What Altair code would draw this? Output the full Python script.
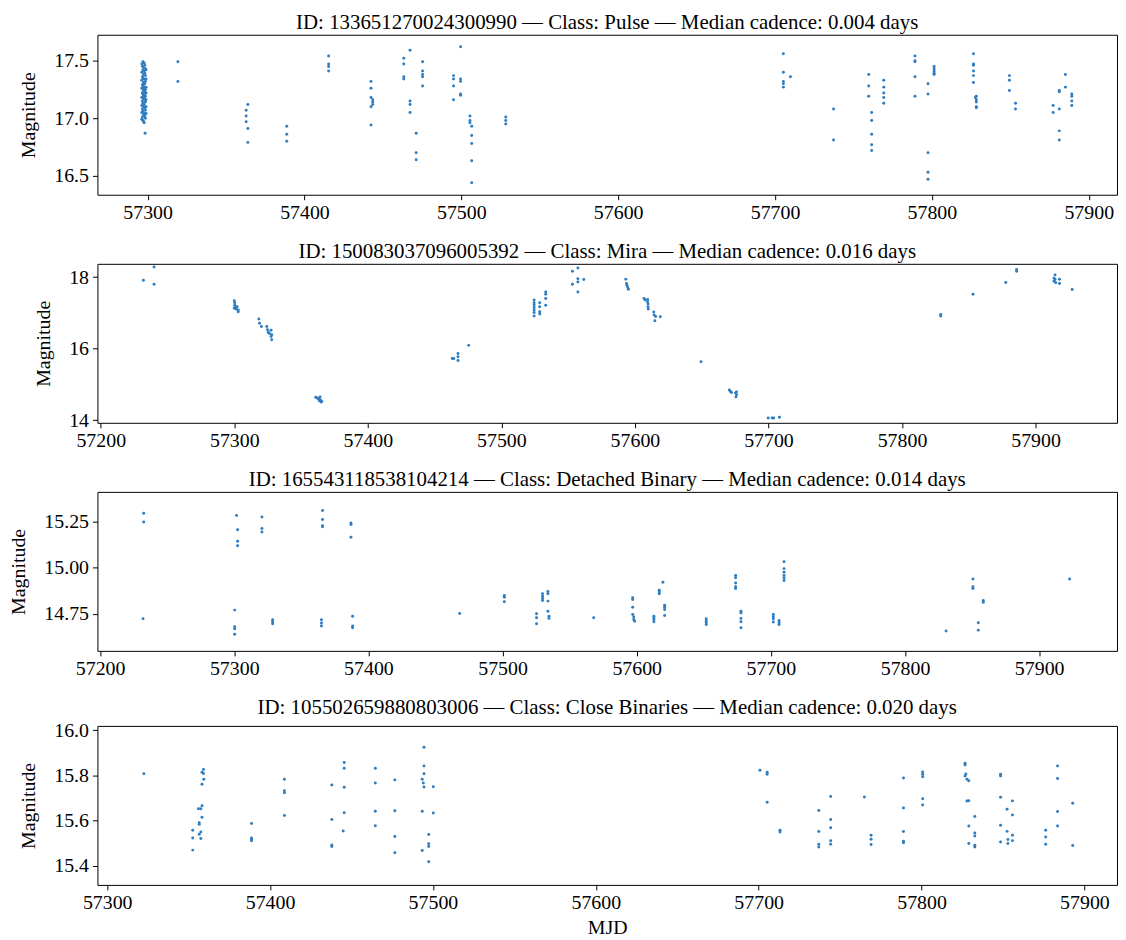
import altair as alt
import pandas as pd

FONT = "Liberation Serif"
COLOR = "#2e7dc0"

# ---------------- Panel 1: Pulse ----------------
p1_mjd = [
    # dense cluster near 57297
    57296.3, 57296.3, 57296.3, 57296.3, 57296.3, 57296.3, 57296.3, 57296.3,
    57296.7, 57296.7, 57296.7, 57296.7, 57296.7, 57296.7, 57296.7,
    57297.0, 57297.0, 57297.0, 57297.0, 57297.0, 57297.0, 57297.0, 57297.0,
    57297.4, 57297.4, 57297.4, 57297.4, 57297.4, 57297.4, 57297.4, 57297.4,
    57297.8, 57297.8, 57297.8, 57297.8, 57297.8, 57297.8, 57297.8, 57297.8,
    57298.2, 57298.2, 57298.2, 57298.2, 57298.2, 57298.2, 57298.2,
    57298.6, 57298.6, 57298.6, 57298.6, 57298.6, 57298.6, 57298.6, 57298.6,
    57299.0, 57299.0, 57299.0, 57299.0, 57299.0, 57299.0, 57299.0,
    57297.2, 57297.2, 57297.2, 57298.0, 57298.0, 57298.0, 57298.4,
    # rest of season 1
    57319.3, 57319.3,
    57363.9, 57362.8, 57362.8, 57362.8, 57363.9, 57363.9,
    57388.7, 57388.7, 57388.7,
    57415.4, 57415.4, 57415.4, 57415.4,
    57442.4, 57442.4, 57442.4, 57442.4, 57442.4, 57443.5, 57443.5, 57443.5,
    57463.3, 57463.3, 57463.3, 57463.3,
    57467.3, 57467.3, 57467.3, 57467.3,
    57471.2, 57471.2, 57471.2,
    57475.3, 57475.3, 57475.3, 57475.3, 57475.3,
    57495.0, 57495.0, 57495.0, 57495.0,
    57499.5, 57499.5, 57499.5, 57499.5, 57499.5,
    57505.5, 57505.5, 57505.5, 57506.6, 57506.6, 57506.6, 57506.6, 57506.6,
    57528.3, 57528.3, 57528.3,
    # season 2
    57705.3, 57705.3, 57705.3, 57705.3, 57705.3, 57709.8,
    57737.3, 57737.3,
    57759.7, 57759.7, 57759.7,
    57761.6, 57761.6, 57761.6, 57761.6, 57761.6,
    57769.3, 57769.3, 57769.3, 57769.3, 57769.3,
    57789.2, 57789.2, 57789.2, 57789.2, 57789.2,
    57797.5, 57797.5, 57797.5, 57797.5, 57797.5,
    57801.4, 57801.4, 57801.4, 57801.4, 57801.4,
    57826.5, 57826.5, 57826.5, 57826.5, 57826.5, 57826.5,
    57827.7, 57828.3, 57828.3, 57828.3, 57828.3, 57828.3,
    57849.4, 57849.4, 57849.4,
    57853.3, 57853.3,
    57877.3, 57877.3,
    57881.2, 57881.2, 57881.2, 57881.2, 57881.2,
    57885.1, 57885.1,
    57889.2, 57889.2, 57889.2, 57889.2,
]
p1_mag = [
    17.47, 17.40, 17.33, 17.26, 17.18, 17.11, 17.05, 16.99,
    17.45, 17.36, 17.29, 17.22, 17.15, 17.08, 17.01,
    17.49, 17.42, 17.35, 17.28, 17.21, 17.13, 17.06, 16.98,
    17.44, 17.38, 17.31, 17.24, 17.17, 17.10, 17.03, 16.97,
    17.48, 17.41, 17.34, 17.27, 17.20, 17.12, 17.04, 16.96,
    17.46, 17.39, 17.30, 17.23, 17.16, 17.09, 17.02,
    17.43, 17.37, 17.32, 17.25, 17.19, 17.14, 17.07, 17.00,
    17.42, 17.34, 17.27, 17.22, 17.16, 17.10, 17.04,
    17.29, 17.24, 17.19, 17.26, 17.21, 17.18, 16.87,
    17.49, 17.32,
    17.12, 17.07, 17.02, 16.97, 16.91, 16.79,
    16.93, 16.86, 16.80,
    17.54, 17.47, 17.45, 17.41,
    17.32, 17.26, 17.18, 17.10, 16.94, 17.16, 17.14, 17.12,
    17.52, 17.47, 17.36, 17.34,
    17.59, 17.15, 17.12, 17.05,
    16.87, 16.70, 16.64,
    17.49, 17.41, 17.38, 17.36, 17.28,
    17.37, 17.34, 17.28, 17.16,
    17.62, 17.34, 17.32, 17.21, 17.20,
    17.02, 16.98, 16.96, 16.93, 16.85, 16.78, 16.63, 16.44,
    17.01, 16.98, 16.95,
    17.56, 17.40, 17.32, 17.30, 17.27, 17.36,
    17.08, 16.81,
    17.38, 17.28, 17.19,
    17.05, 16.98, 16.86, 16.77, 16.72,
    17.33, 17.27, 17.22, 17.18, 17.13,
    17.54, 17.50, 17.49, 17.36, 17.19,
    17.30, 17.21, 16.70, 16.53, 16.47,
    17.45, 17.43, 17.41, 17.39, 17.38,
    17.56, 17.47, 17.46, 17.41, 17.37, 17.31,
    17.18, 17.19, 17.16, 17.14, 17.10, 17.09,
    17.37, 17.33, 17.24,
    17.13, 17.08,
    17.11, 17.05,
    17.24, 17.23, 17.08, 16.89, 16.81,
    17.38, 17.27,
    17.21, 17.19, 17.15, 17.11,
]

# ---------------- Panel 2: Mira ----------------
p2_mjd = [
    57231.9, 57239.9, 57239.9,
    57300.0, 57300.3, 57300.3, 57300.8, 57301.3, 57302.1, 57302.9, 57302.9, 57300.0,
    57318.4, 57318.9, 57320.3,
    57324.3, 57324.8, 57325.4, 57326.2, 57327.5, 57328.0, 57328.0, 57327.5,
    57361.0, 57362.1, 57362.9, 57363.4, 57364.2, 57364.2, 57364.7, 57365.5, 57365.0, 57363.7,
    57463.2, 57464.3,
    57467.5, 57467.5, 57467.5,
    57475.5,
    57524.5, 57524.5, 57524.5, 57524.5, 57524.5, 57524.5, 57524.5,
    57528.7, 57528.7, 57528.7, 57528.7,
    57533.2, 57533.2, 57533.2, 57533.2,
    57553.2, 57553.2, 57557.3, 57557.3, 57557.3, 57557.3, 57561.7,
    57593.2, 57593.7, 57594.0, 57594.6, 57595.1,
    57606.8, 57607.6, 57609.5, 57609.5, 57609.8, 57609.8, 57610.0,
    57614.1, 57614.4, 57615.5, 57614.9, 57619.0,
    57649.5,
    57670.7, 57671.5, 57672.3, 57675.3, 57676.1, 57675.6, 57676.1,
    57699.8, 57702.8, 57703.9, 57708.2,
    57829.0, 57829.0,
    57853.2,
    57877.7,
    57885.8, 57885.8,
    57914.6, 57913.8, 57914.6, 57913.8, 57915.1, 57917.9, 57917.9,
    57927.4,
]
p2_mag = [
    17.91, 18.28, 17.80,
    17.34, 17.28, 17.21, 17.15, 17.11, 17.17, 17.08, 17.03, 17.13,
    16.83, 16.71, 16.62,
    16.62, 16.53, 16.46, 16.42, 16.51, 16.39, 16.25, 16.34,
    14.64, 14.62, 14.60, 14.58, 14.65, 14.57, 14.55, 14.52, 14.51, 14.54,
    15.72, 15.72,
    15.86, 15.77, 15.67,
    16.09,
    17.36, 17.28, 17.22, 17.15, 17.08, 17.01, 16.91,
    17.28, 17.17, 17.03, 16.97,
    17.58, 17.52, 17.40, 17.21,
    18.16, 17.80, 18.25, 17.95, 17.86, 17.58, 17.93,
    17.94, 17.82, 17.77, 17.71, 17.66,
    17.40, 17.36, 17.37, 17.31, 17.25, 17.17, 17.11,
    17.02, 16.94, 16.90, 16.78, 16.89,
    15.63,
    14.84, 14.80, 14.77, 14.76, 14.71, 14.65, 14.79,
    14.06, 14.06, 14.06, 14.08,
    16.95, 16.91,
    17.52,
    17.85,
    18.21, 18.16,
    18.06, 17.97, 17.93, 17.88, 17.84, 17.94, 17.82,
    17.65,
]

# ---------------- Panel 3: Detached Binary ----------------
p3_mjd = [
    57232.5, 57232.5, 57232.0,
    57301.7, 57302.5, 57302.5, 57302.5,
    57300.3, 57300.3, 57300.3, 57300.3,
    57320.6, 57320.6, 57320.6,
    57328.6, 57328.6, 57328.6,
    57365.8, 57365.8, 57365.8, 57365.8,
    57365.0, 57365.0, 57365.0,
    57387.0, 57387.0, 57387.0,
    57388.2, 57388.2, 57388.2,
    57468.0,
    57501.3, 57501.3, 57501.3,
    57525.3, 57525.3, 57525.3,
    57529.8, 57529.8, 57529.8, 57529.8,
    57533.8, 57533.8, 57533.8, 57533.8, 57534.6, 57534.6,
    57567.9,
    57597.0, 57597.0, 57597.0, 57597.0, 57597.8, 57597.8, 57598.4,
    57612.8, 57612.8, 57612.8, 57612.8,
    57616.8, 57616.8, 57616.8,
    57619.5,
    57620.8, 57620.8, 57620.8, 57620.8,
    57651.8, 57651.8, 57651.8, 57651.8,
    57673.7, 57673.7, 57673.7, 57673.7, 57673.7,
    57677.7, 57677.7, 57677.7, 57677.7, 57677.7,
    57701.8, 57701.8, 57701.8, 57701.8,
    57706.1, 57706.1, 57706.1,
    57709.8, 57709.8, 57709.8, 57709.8, 57709.8, 57709.8,
    57830.6,
    57850.6, 57850.6, 57850.6,
    57854.6, 57854.6,
    57858.3, 57858.3,
    57922.7,
]
p3_mag = [
    15.297, 15.250, 14.723,
    15.286, 15.208, 15.145, 15.121,
    14.770, 14.679, 14.668, 14.638,
    15.277, 15.214, 15.196,
    14.718, 14.707, 14.696,
    15.313, 15.264, 15.230, 15.224,
    14.718, 14.700, 14.683,
    15.245, 15.236, 15.167,
    14.737, 14.683, 14.674,
    14.752,
    14.850, 14.840, 14.815,
    14.750, 14.728, 14.696,
    14.859, 14.846, 14.833, 14.822,
    14.871, 14.859, 14.819, 14.764, 14.737, 14.725,
    14.728,
    14.837, 14.828, 14.786, 14.746, 14.732, 14.719, 14.710,
    14.737, 14.728, 14.719, 14.707,
    14.878, 14.869, 14.859,
    14.922,
    14.797, 14.786, 14.773, 14.741,
    14.723, 14.712, 14.703, 14.692,
    14.958, 14.946, 14.918, 14.897, 14.888,
    14.764, 14.754, 14.725, 14.707, 14.674,
    14.746, 14.734, 14.723, 14.705,
    14.714, 14.703, 14.692,
    15.034, 14.996, 14.976, 14.958, 14.946, 14.931,
    14.656,
    14.940, 14.897, 14.888,
    14.701, 14.661,
    14.822, 14.813,
    14.940,
]

# ---------------- Panel 4: Close Binaries ----------------
p4_mjd = [
    57322.5,
    57352.5, 57352.5, 57352.5,
    57356.0, 57356.5, 57356.5, 57356.5, 57357.5, 57357.5, 57357.5, 57358.2, 57358.2, 57358.2, 57358.2, 57359.1, 57359.1, 57359.3,
    57388.6, 57388.6, 57388.6, 57388.6,
    57408.8, 57408.8, 57408.8, 57408.8,
    57437.9, 57437.9, 57437.9, 57437.9,
    57445.5, 57445.5, 57445.5, 57445.5, 57444.9,
    57464.6, 57464.6, 57464.6, 57464.6,
    57476.6, 57476.6, 57476.6, 57476.6,
    57494.5, 57494.5, 57494.5, 57493.4, 57494.1, 57494.5, 57493.4, 57493.4, 57497.4, 57497.4, 57497.4, 57497.4,
    57500.2, 57500.2,
    57700.8, 57705.2, 57705.2, 57705.2,
    57713.1, 57713.1,
    57736.9, 57736.9, 57736.9, 57736.9,
    57744.2, 57744.2, 57744.2, 57744.2, 57744.2,
    57764.9,
    57769.0, 57769.0, 57769.0,
    57788.9, 57788.9, 57788.9, 57788.9, 57788.9,
    57800.7, 57800.7, 57800.7, 57800.7, 57800.7,
    57826.7, 57826.7, 57826.7, 57827.2, 57827.9, 57829.0, 57827.9, 57829.0, 57829.0, 57829.0,
    57832.7, 57832.7, 57832.7, 57832.7, 57832.7,
    57848.5, 57848.5, 57848.5, 57848.5, 57848.5,
    57852.5, 57852.5, 57853.0, 57853.0, 57855.8, 57855.8, 57855.8, 57855.8,
    57876.2, 57876.2, 57876.2,
    57883.5, 57883.5, 57883.5, 57883.5,
    57892.8, 57892.8,
]
p4_mag = [
    15.807,
    15.557, 15.523, 15.469,
    15.652, 15.590, 15.583, 15.539, 15.520, 15.549, 15.652, 15.665, 15.615, 15.761, 15.814, 15.826, 15.808, 15.783,
    15.587, 15.523, 15.516, 15.510,
    15.783, 15.732, 15.723, 15.622,
    15.757, 15.605, 15.492, 15.485,
    15.857, 15.832, 15.747, 15.634, 15.554,
    15.832, 15.766, 15.641, 15.577,
    15.780, 15.643, 15.529, 15.457,
    15.924, 15.842, 15.807, 15.783, 15.766, 15.748, 15.641, 15.467, 15.538, 15.497, 15.485, 15.418,
    15.750, 15.633,
    15.823, 15.814, 15.805, 15.681,
    15.557, 15.549,
    15.644, 15.551, 15.495, 15.483,
    15.706, 15.605, 15.568, 15.510, 15.495,
    15.704,
    15.535, 15.517, 15.494,
    15.788, 15.656, 15.551, 15.508, 15.502,
    15.815, 15.805, 15.794, 15.696, 15.669,
    15.854, 15.846, 15.797, 15.806, 15.783, 15.776, 15.686, 15.688, 15.576, 15.498,
    15.618, 15.545, 15.532, 15.491, 15.483,
    15.805, 15.797, 15.703, 15.579, 15.505,
    15.650, 15.552, 15.516, 15.498, 15.687, 15.625, 15.535, 15.511,
    15.557, 15.527, 15.495,
    15.842, 15.786, 15.640, 15.576,
    15.677, 15.489,
]

titles = [
    "ID: 133651270024300990 \u2014 Class: Pulse \u2014 Median cadence: 0.004 days",
    "ID: 150083037096005392 \u2014 Class: Mira \u2014 Median cadence: 0.016 days",
    "ID: 165543118538104214 \u2014 Class: Detached Binary \u2014 Median cadence: 0.014 days",
    "ID: 105502659880803006 \u2014 Class: Close Binaries \u2014 Median cadence: 0.020 days",
]
x_domains = [[57268, 57918], [57197.5, 57961], [57198, 57958], [57294, 57920]]
y_domains = [[16.335, 17.725], [13.925, 18.37], [14.548, 15.414], [15.315, 16.019]]
x_ticks = [
    [57300, 57400, 57500, 57600, 57700, 57800, 57900],
    [57200, 57300, 57400, 57500, 57600, 57700, 57800, 57900],
    [57200, 57300, 57400, 57500, 57600, 57700, 57800, 57900],
    [57300, 57400, 57500, 57600, 57700, 57800, 57900],
]
y_ticks = [[16.5, 17.0, 17.5], [14, 16, 18], [14.75, 15.0, 15.25], [15.4, 15.6, 15.8, 16.0]]
y_formats = [".1f", "d", ".2f", ".1f"]
heights = [161, 160, 160, 160]


def panel(i, mjd, mag, last):
    df = pd.DataFrame({"mjd": mjd, "mag": mag})
    xaxis = alt.Axis(values=x_ticks[i], format="d", labelPadding=3, titlePadding=5)
    if last:
        x = alt.X("mjd:Q", title="MJD",
                  scale=alt.Scale(domain=x_domains[i], nice=False, zero=False),
                  axis=xaxis)
    else:
        x = alt.X("mjd:Q", title=None,
                  scale=alt.Scale(domain=x_domains[i], nice=False, zero=False),
                  axis=xaxis)
    y = alt.Y("mag:Q", title="Magnitude",
              scale=alt.Scale(domain=y_domains[i], nice=False, zero=False),
              axis=alt.Axis(values=y_ticks[i], format=y_formats[i], labelPadding=4,
                            titlePadding=15.5))
    return (
        alt.Chart(df)
        .mark_circle(size=9, color=COLOR, opacity=1)
        .encode(x=x, y=y)
        .properties(width=1026, height=heights[i],
                    title=alt.TitleParams(titles[i]))
    )


data = [(p1_mjd, p1_mag), (p2_mjd, p2_mag), (p3_mjd, p3_mag), (p4_mjd, p4_mag)]
panels = [panel(i, d[0], d[1], i == 3) for i, d in enumerate(data)]

chart = (
    alt.vconcat(*panels, spacing=16.5)
    .properties(padding={"left": 0, "top": 0, "right": 0, "bottom": -4},
                background="white")
    .configure_view(stroke="black", strokeWidth=1)
    .configure_axis(
        labelFont=FONT, labelFontSize=20, labelColor="black",
        titleFont=FONT, titleFontSize=20, titleFontWeight="normal", titleColor="black",
        tickColor="black", tickSize=5, tickWidth=1,
        domain=False, grid=False,
    )
    .configure_title(font=FONT, fontSize=21, fontWeight="normal", color="black",
                     anchor="middle", offset=2)
)

chart.save("out.html", embed_options={"renderer": "svg", "actions": False})
